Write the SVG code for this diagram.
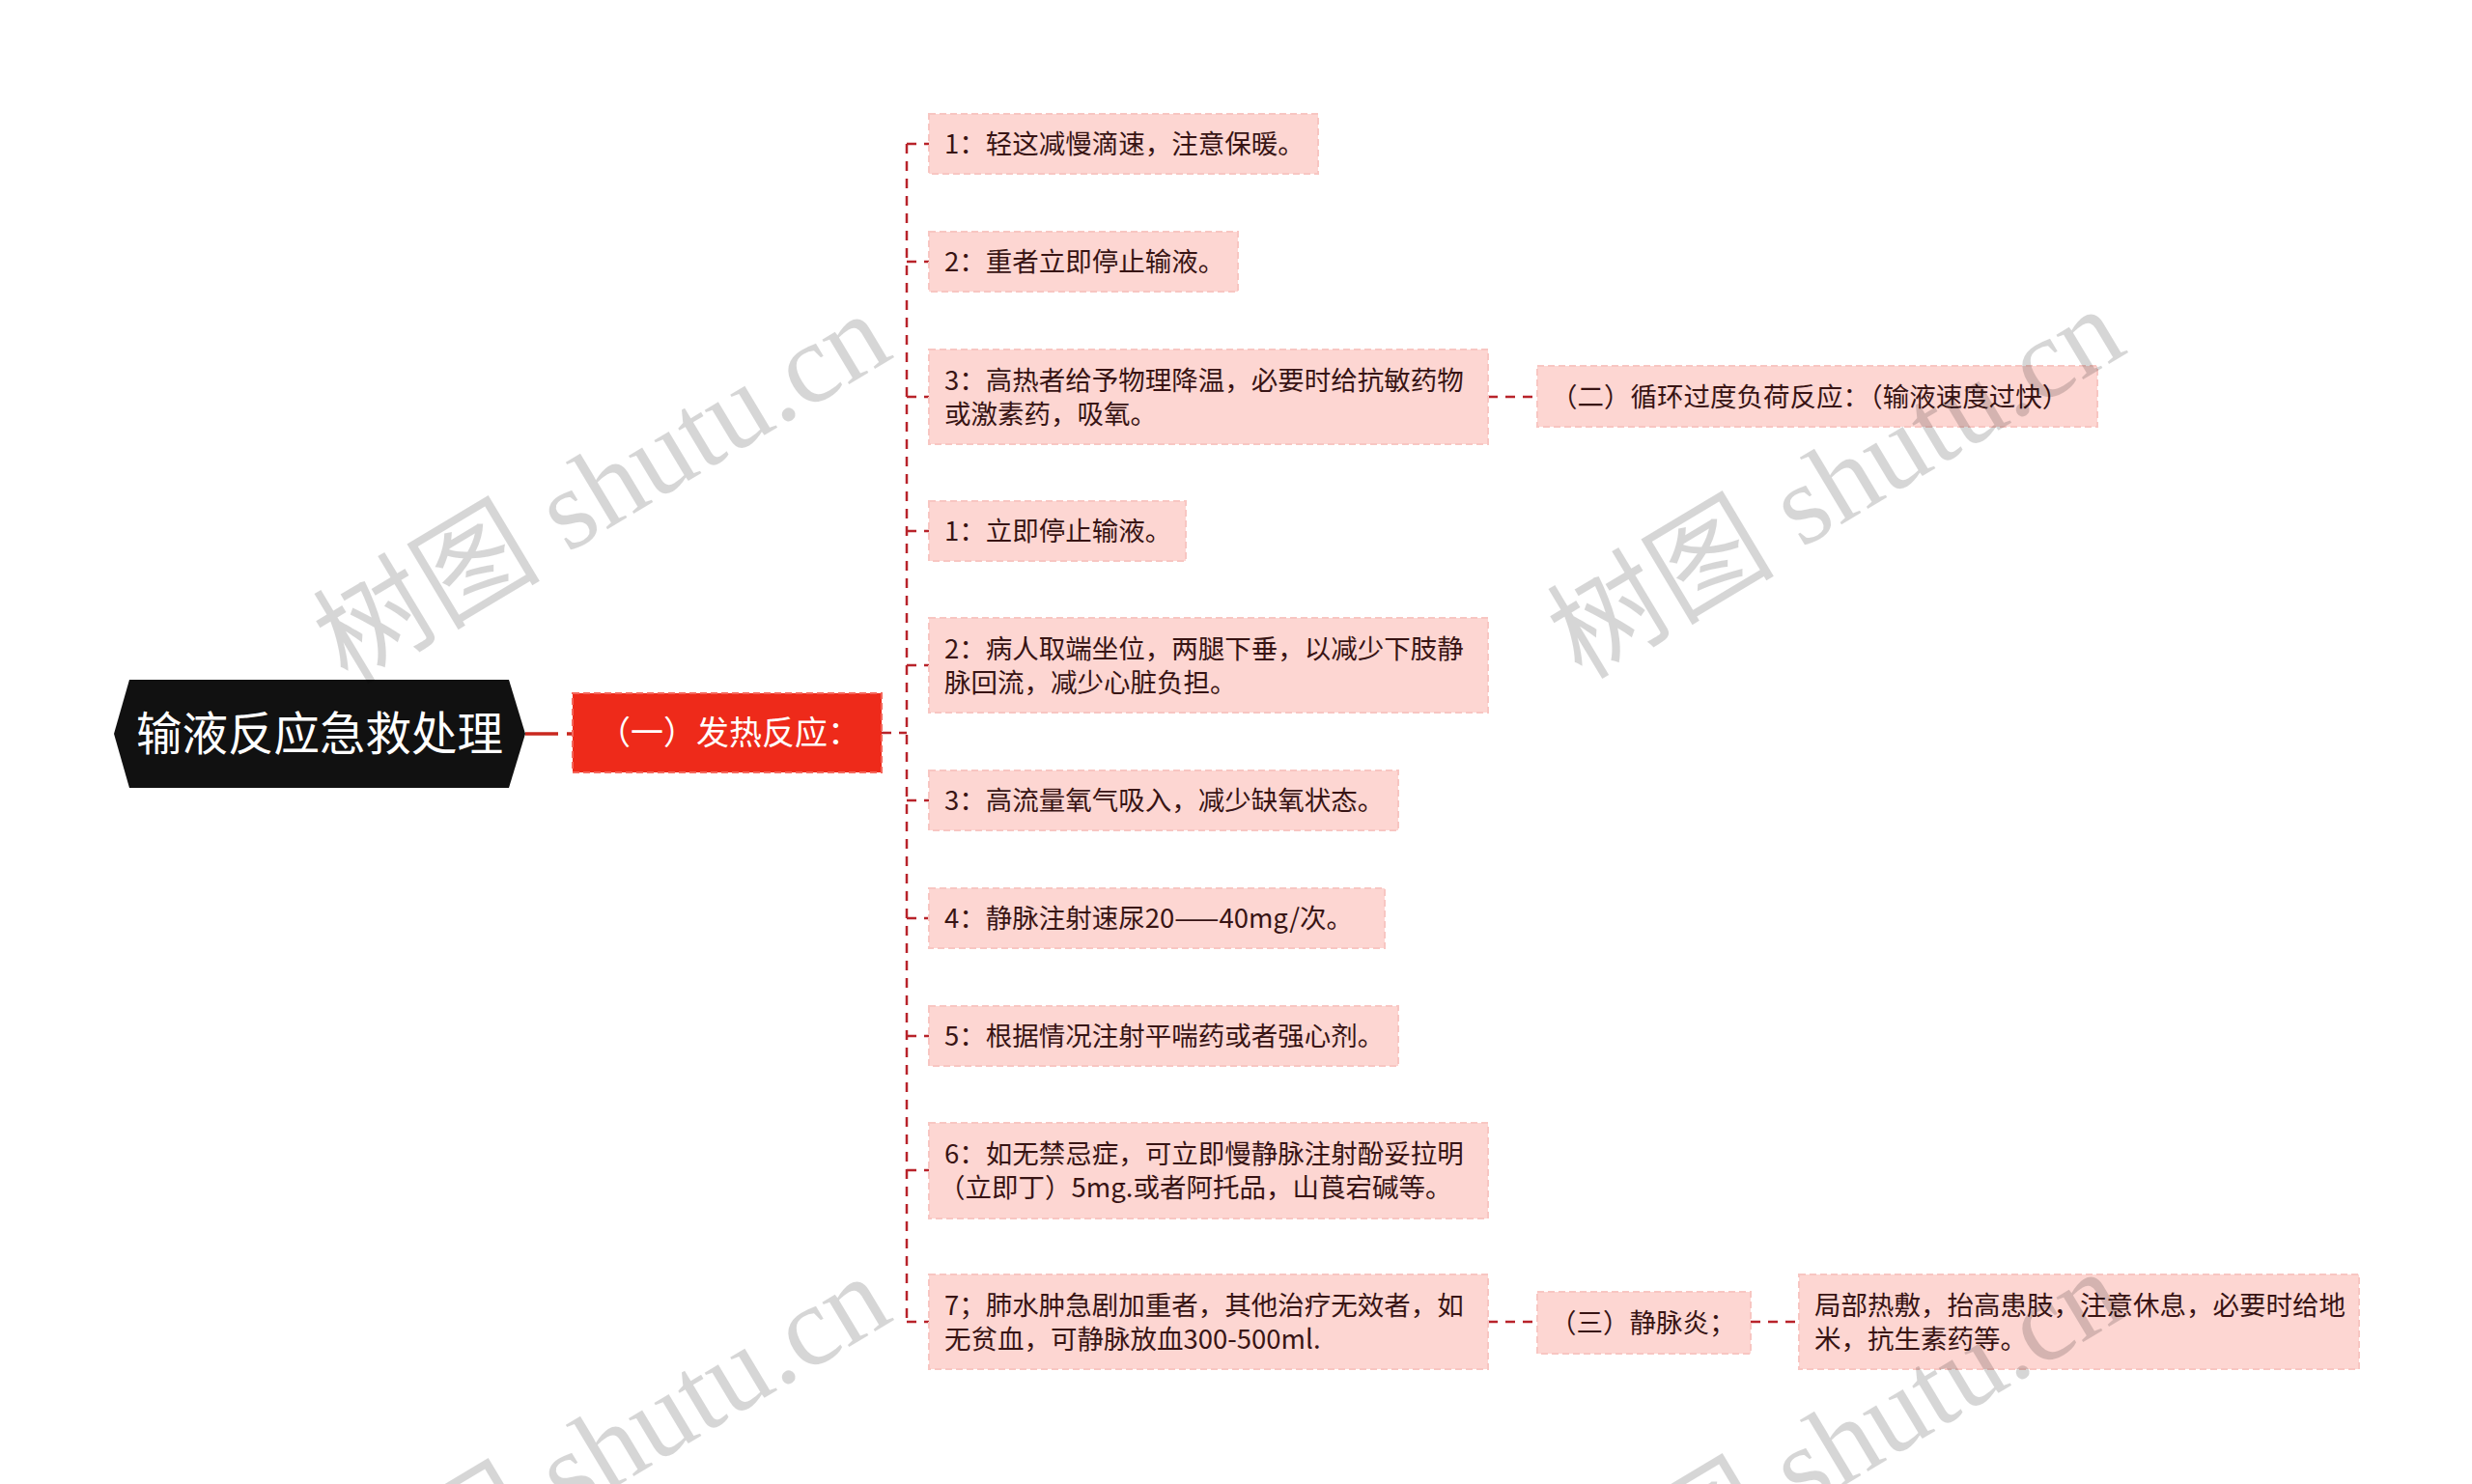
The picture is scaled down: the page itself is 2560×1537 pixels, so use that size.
<svg xmlns="http://www.w3.org/2000/svg" width="2560" height="1537" viewBox="0 0 2560 1537">
<style>
.bg{fill:#ffffff}
.box{fill:#fdd6d2;stroke:#f8c6c2;stroke-width:2;stroke-dasharray:7 4}
.red{fill:#ee2a1a;stroke:#f4675c;stroke-width:2;stroke-dasharray:7 4}
.t{font-family:"Noto Sans CJK SC","Liberation Sans",sans-serif;font-size:27.5px;fill:#381414}
.tw{font-family:"Noto Sans CJK SC","Liberation Sans",sans-serif;fill:#ffffff}
.conn{fill:none;stroke:#b8232a;stroke-width:2.5;stroke-dasharray:10 8}
.wm{font-family:"Liberation Serif","Noto Sans CJK SC",serif;font-size:118px;fill:#000000;fill-opacity:0.16}
</style>
<rect class="bg" x="0" y="0" width="2560" height="1537"/>

<g id="connectors">
  <path d="M544,760 H593" fill="none" stroke="#c9281f" stroke-width="3.5" stroke-dasharray="34 9"/>
  <path class="conn" d="M913,759 H939"/>
  <path class="conn" d="M939,149 V1369"/>
  <path class="conn" d="M939,149 H962"/>
  <path class="conn" d="M939,271 H962"/>
  <path class="conn" d="M939,411 H962"/>
  <path class="conn" d="M939,550 H962"/>
  <path class="conn" d="M939,689 H962"/>
  <path class="conn" d="M939,829 H962"/>
  <path class="conn" d="M939,951 H962"/>
  <path class="conn" d="M939,1073 H962"/>
  <path class="conn" d="M939,1212 H962"/>
  <path class="conn" d="M939,1369 H962"/>
  <path class="conn" d="M1541,411 H1592"/>
  <path class="conn" d="M1541,1369 H1592"/>
  <path class="conn" d="M1813,1369 H1863"/>
</g>

<g id="root">
  <polygon points="118,760 134,704 527,704 544,760 527,816 134,816" fill="#111111"/>
  <text class="tw" x="331" y="777" font-size="47.5" text-anchor="middle">输液反应急救处理</text>
</g>

<g id="n-fever">
  <rect class="red" x="593" y="718" width="320" height="82"/>
  <text class="tw" x="755" y="771" font-size="34" text-anchor="middle">（一）发热反应：</text>
</g>

<g id="c1">
  <rect class="box" x="962" y="118" width="403" height="62"/>
  <text class="t" x="978" y="159">1：轻这减慢滴速，注意保暖。</text>
</g>
<g id="c2">
  <rect class="box" x="962" y="240" width="320" height="62"/>
  <text class="t" x="978" y="281">2：重者立即停止输液。</text>
</g>
<g id="c3">
  <rect class="box" x="962" y="362" width="579" height="98"/>
  <text class="t" x="978" y="404">3：高热者给予物理降温，必要时给抗敏药物</text>
  <text class="t" x="978" y="439">或激素药，吸氧。</text>
</g>
<g id="c4">
  <rect class="box" x="962" y="519" width="266" height="62"/>
  <text class="t" x="978" y="560">1：立即停止输液。</text>
</g>
<g id="c5">
  <rect class="box" x="962" y="640" width="579" height="98"/>
  <text class="t" x="978" y="682">2：病人取端坐位，两腿下垂，以减少下肢静</text>
  <text class="t" x="978" y="717">脉回流，减少心脏负担。</text>
</g>
<g id="c6">
  <rect class="box" x="962" y="798" width="486" height="62"/>
  <text class="t" x="978" y="839">3：高流量氧气吸入，减少缺氧状态。</text>
</g>
<g id="c7">
  <rect class="box" x="962" y="920" width="472" height="62"/>
  <text class="t" x="978" y="961">4：静脉注射速尿20——40mg/次。</text>
</g>
<g id="c8">
  <rect class="box" x="962" y="1042" width="486" height="62"/>
  <text class="t" x="978" y="1083">5：根据情况注射平喘药或者强心剂。</text>
</g>
<g id="c9">
  <rect class="box" x="962" y="1163" width="579" height="99"/>
  <text class="t" x="978" y="1205">6：如无禁忌症，可立即慢静脉注射酚妥拉明</text>
  <text class="t" x="972" y="1240">（立即丁）5mg.或者阿托品，山莨宕碱等。</text>
</g>
<g id="c10">
  <rect class="box" x="962" y="1320" width="579" height="98"/>
  <text class="t" x="978" y="1362">7；肺水肿急剧加重者，其他治疗无效者，如</text>
  <text class="t" x="978" y="1397">无贫血，可静脉放血300-500ml.</text>
</g>

<g id="n-circ">
  <rect class="box" x="1592" y="379" width="580" height="63"/>
  <text class="t" x="1606" y="421">（二）循环过度负荷反应：（输液速度过快）</text>
</g>
<g id="n-phleb">
  <rect class="box" x="1592" y="1338" width="221" height="64"/>
  <text class="t" x="1605" y="1380">（三）静脉炎；</text>
</g>
<g id="n-leaf">
  <rect class="box" x="1863" y="1320" width="580" height="98"/>
  <text class="t" x="1879" y="1362">局部热敷，抬高患肢，注意休息，必要时给地</text>
  <text class="t" x="1879" y="1397">米，抗生素药等。</text>
</g>

<g id="watermarks">
  <text class="wm" transform="translate(360,710) rotate(-31)">树图 shutu.cn</text>
  <text class="wm" transform="translate(1638,705) rotate(-31)">树图 shutu.cn</text>
  <text class="wm" transform="translate(360,1707) rotate(-31)">树图 shutu.cn</text>
  <text class="wm" transform="translate(1638,1702) rotate(-31)">树图 shutu.cn</text>
</g>
</svg>
